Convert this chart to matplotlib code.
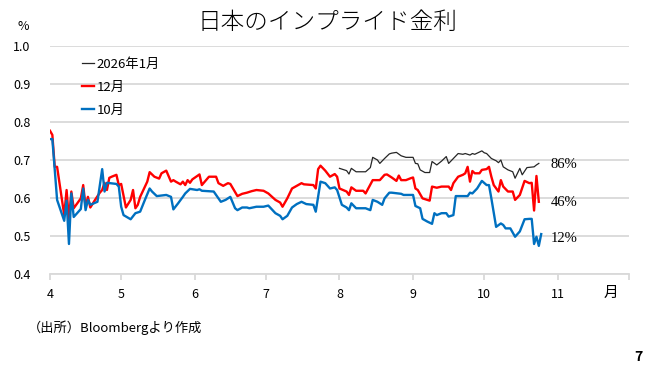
import matplotlib
matplotlib.use("Agg")
from matplotlib import pyplot as plt
import pandas as pd

plt.rcParams['font.family'] = ['Noto Sans CJK JP', 'DejaVu Sans']

# インプライド金利 (%), 限月別
dates_oct = ['04-01', '04-02', '04-04', '04-07', '04-08', '04-09', '04-10', '04-11', '04-14', '04-15',
             '04-16', '04-17', '04-18', '04-21', '04-23', '04-24', '04-25', '04-29', '04-30', '05-01',
             '05-02', '05-05', '05-07', '05-09', '05-11', '05-13', '05-14', '05-16', '05-20', '05-22',
             '05-23', '05-25', '05-27', '05-28', '05-30', '06-02', '06-03', '06-04', '06-09', '06-11',
             '06-12', '06-14', '06-16', '06-18', '06-19', '06-21', '06-23', '06-24', '06-27', '06-30',
             '07-02', '07-05', '07-07', '07-08', '07-10', '07-12', '07-14', '07-16', '07-18', '07-21',
             '07-22', '07-24', '07-26', '07-28', '07-30', '07-31', '08-02', '08-04', '08-05', '08-06',
             '08-08', '08-12', '08-14', '08-15', '08-17', '08-19', '08-20', '08-22', '08-23', '08-27',
             '08-28', '09-01', '09-02', '09-04', '09-05', '09-07', '09-09', '09-10', '09-11', '09-13',
             '09-15', '09-16', '09-18', '09-19', '09-24', '09-25', '09-26', '09-28', '09-30', '10-02',
             '10-03', '10-04', '10-06', '10-08', '10-09', '10-10', '10-12', '10-14', '10-16', '10-18',
             '10-20', '10-21', '10-22', '10-23', '10-24', '10-25']
rate_oct = [0.755, 0.755, 0.595, 0.540, 0.593, 0.479, 0.612, 0.550, 0.571, 0.625,
            0.568, 0.595, 0.582, 0.590, 0.676, 0.617, 0.640, 0.637, 0.630, 0.577,
            0.555, 0.544, 0.560, 0.564, 0.595, 0.625, 0.617, 0.605, 0.608, 0.603,
            0.570, 0.586, 0.603, 0.612, 0.624, 0.621, 0.623, 0.619, 0.617, 0.599,
            0.590, 0.595, 0.603, 0.573, 0.568, 0.575, 0.575, 0.573, 0.577, 0.577,
            0.580, 0.560, 0.553, 0.544, 0.553, 0.575, 0.584, 0.590, 0.584, 0.582,
            0.564, 0.643, 0.639, 0.625, 0.628, 0.621, 0.582, 0.575, 0.568, 0.586,
            0.573, 0.573, 0.568, 0.595, 0.590, 0.582, 0.599, 0.614, 0.614, 0.611,
            0.608, 0.608, 0.579, 0.573, 0.545, 0.538, 0.532, 0.560, 0.555, 0.560,
            0.560, 0.551, 0.555, 0.605, 0.605, 0.614, 0.612, 0.625, 0.645, 0.634,
            0.634, 0.599, 0.524, 0.533, 0.529, 0.520, 0.520, 0.498, 0.512, 0.544,
            0.545, 0.545, 0.479, 0.498, 0.474, 0.505]

dates_dec = ['04-01', '04-02', '04-03', '04-04', '04-07', '04-08', '04-09', '04-10', '04-11', '04-14',
             '04-15', '04-16', '04-17', '04-18', '04-20', '04-22', '04-23', '04-24', '04-25', '04-26',
             '04-27', '04-29', '04-30', '05-01', '05-03', '05-05', '05-06', '05-07', '05-08', '05-09',
             '05-12', '05-13', '05-15', '05-17', '05-18', '05-20', '05-22', '05-23', '05-24', '05-26',
             '05-27', '05-28', '05-29', '05-30', '05-31', '06-03', '06-04', '06-07', '06-10', '06-11',
             '06-13', '06-15', '06-16', '06-19', '06-21', '06-23', '06-25', '06-27', '06-30', '07-02',
             '07-05', '07-07', '07-08', '07-10', '07-12', '07-14', '07-16', '07-17', '07-21', '07-22',
             '07-23', '07-24', '07-26', '07-28', '07-30', '07-31', '08-01', '08-04', '08-05', '08-06',
             '08-08', '08-11', '08-12', '08-15', '08-18', '08-20', '08-21', '08-23', '08-25', '08-26',
             '08-27', '08-29', '08-31', '09-01', '09-02', '09-03', '09-05', '09-07', '09-08', '09-09',
             '09-11', '09-13', '09-16', '09-17', '09-18', '09-20', '09-22', '09-23', '09-24', '09-25',
             '09-26', '09-27', '09-29', '09-30', '10-02', '10-03', '10-04', '10-05', '10-07', '10-08',
             '10-09', '10-11', '10-13', '10-14', '10-16', '10-18', '10-20', '10-21', '10-22', '10-23',
             '10-24']
rate_dec = [0.777, 0.766, 0.682, 0.682, 0.555, 0.621, 0.542, 0.617, 0.573, 0.599,
            0.634, 0.577, 0.603, 0.575, 0.595, 0.614, 0.621, 0.640, 0.621, 0.653,
            0.656, 0.661, 0.634, 0.637, 0.575, 0.595, 0.621, 0.573, 0.582, 0.603,
            0.643, 0.668, 0.656, 0.651, 0.665, 0.672, 0.643, 0.647, 0.643, 0.636,
            0.643, 0.634, 0.647, 0.640, 0.649, 0.662, 0.634, 0.656, 0.656, 0.639,
            0.632, 0.639, 0.637, 0.605, 0.611, 0.614, 0.618, 0.621, 0.619, 0.612,
            0.595, 0.588, 0.577, 0.599, 0.625, 0.632, 0.639, 0.636, 0.634, 0.625,
            0.676, 0.685, 0.672, 0.656, 0.663, 0.656, 0.625, 0.617, 0.608, 0.628,
            0.619, 0.619, 0.612, 0.647, 0.647, 0.661, 0.662, 0.654, 0.645, 0.659,
            0.647, 0.647, 0.652, 0.654, 0.625, 0.621, 0.599, 0.595, 0.593, 0.630,
            0.627, 0.630, 0.630, 0.621, 0.639, 0.656, 0.661, 0.665, 0.682, 0.643,
            0.671, 0.665, 0.665, 0.674, 0.676, 0.682, 0.656, 0.634, 0.617, 0.647,
            0.630, 0.617, 0.617, 0.595, 0.608, 0.645, 0.639, 0.640, 0.567, 0.658,
            0.590]

dates_jan = ['08-01', '08-04', '08-05', '08-06', '08-08', '08-12', '08-14', '08-15', '08-17', '08-18',
             '08-20', '08-22', '08-23', '08-25', '08-27', '08-29', '09-01', '09-02', '09-03', '09-04',
             '09-06', '09-08', '09-09', '09-11', '09-13', '09-15', '09-16', '09-18', '09-20', '09-22',
             '09-23', '09-25', '09-26', '09-27', '09-30', '10-01', '10-02', '10-04', '10-06', '10-07',
             '10-08', '10-09', '10-11', '10-13', '10-14', '10-16', '10-17', '10-19', '10-22', '10-23',
             '10-24']
rate_jan = [0.678, 0.672, 0.663, 0.678, 0.669, 0.669, 0.680, 0.707, 0.700, 0.691,
            0.704, 0.716, 0.718, 0.720, 0.711, 0.707, 0.707, 0.691, 0.690, 0.674,
            0.667, 0.667, 0.696, 0.687, 0.697, 0.709, 0.691, 0.704, 0.717, 0.715,
            0.717, 0.713, 0.717, 0.715, 0.724, 0.719, 0.717, 0.704, 0.698, 0.693,
            0.700, 0.682, 0.674, 0.669, 0.652, 0.678, 0.661, 0.680, 0.682, 0.687,
            0.691]

# 利上げ確率 (右端の注記)
prob_labels = ['86%', '46%', '12%']
prob_levels = [0.687, 0.589, 0.494]

month_labels = ['4', '5', '6', '7', '8', '9', '10', '11']


def to_dt(days):
    return pd.to_datetime(['2025-' + d for d in days])


fig = plt.figure(figsize=(6.55, 3.71), dpi=100)
ax = fig.add_axes([0.0763, 0.2615, 0.8840, 0.6145])

ax.plot(to_dt(dates_jan), rate_jan, color='#262626', lw=0.9, label='2026年1月')
ax.plot(to_dt(dates_dec), rate_dec, color='#FF0000', lw=1.7, label='12月')
ax.plot(to_dt(dates_oct), rate_oct, color='#0070C0', lw=1.7, label='10月')

yt = [0.4, 0.5, 0.6, 0.7, 0.8, 0.9, 1.0]
ax.set_ylim(0.4, 1.0)
ax.set_yticks(yt)
ax.set_yticklabels(['%.1f' % v for v in yt], fontsize=9)
ax.grid(axis='y', color='#D9D9D9', lw=1.3)
ax.set_axisbelow(True)

ax.set_xlim(pd.Timestamp('2025-04-01'), pd.Timestamp('2025-12-01'))
ticks = pd.date_range('2025-04-01', '2025-12-01', freq='MS')
ax.set_xticks(ticks)
ax.set_xticklabels(month_labels + [''], fontsize=9)
ax.tick_params(axis='x', length=4, color='#D9D9D9', width=1.3, pad=6)
ax.tick_params(axis='y', length=0, pad=14)

for s in ['top', 'right', 'left']:
    ax.spines[s].set_visible(False)
ax.spines['bottom'].set_color('#D9D9D9')
ax.spines['bottom'].set_linewidth(1.3)

for lab, lev in zip(prob_labels, prob_levels):
    ax.text(pd.Timestamp('2025-10-29'), lev, lab, family=['Liberation Serif', 'DejaVu Serif'],
            fontsize=10.5, va='center', ha='left')

leg = ax.legend(loc='upper left', bbox_to_anchor=(0.035, 1.0), frameon=False, fontsize=9.5,
                handlelength=0.9, handletextpad=0.2, labelspacing=0.75)

fig.text(0.5, 0.94, '日本のインプライド金利', ha='center', va='center', fontsize=17, fontweight='light')
fig.text(0.035, 0.928, '%', ha='center', va='center', fontsize=9)
fig.text(0.932, 0.21, '月', ha='center', va='center', fontsize=10.5)
fig.text(0.043, 0.118, '（出所）Bloombergより作成', ha='left', va='center', fontsize=9.5)
fig.text(0.975, 0.038, '7', ha='center', va='center', fontsize=10, fontweight='bold')

fig.savefig('out.png', dpi=100)
